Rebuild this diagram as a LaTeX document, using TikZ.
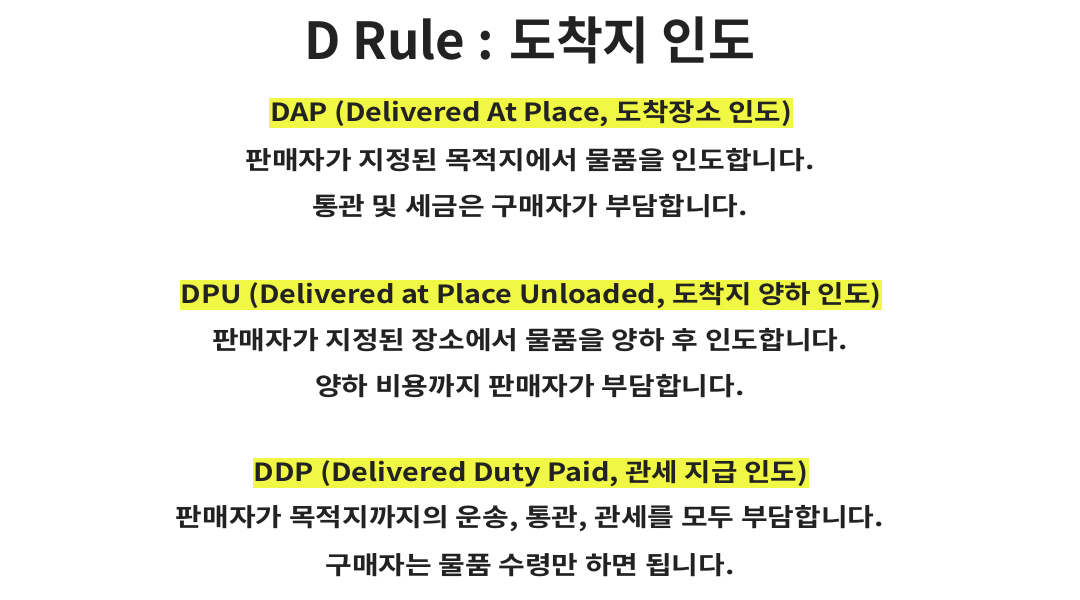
\documentclass[tikz,border=0pt]{standalone}
\usepackage{fontspec}
\setmainfont{Noto Sans CJK KR}[BoldFont={* Bold}]
\newfontfamily\krtitle{Noto Sans CJK KR Bold}[FakeStretch=1.0]
\newfontfamily\krhead{Noto Sans CJK KR Bold}[FakeStretch=1.15]
\newfontfamily\krbody{Noto Sans CJK KR Bold}[FakeStretch=1.16]
\definecolor{ink}{RGB}{34,34,34}
\definecolor{hl}{RGB}{240,247,68}
\begin{document}
\begin{tikzpicture}[x=1pt,y=-1pt,
  titletext/.style={font=\fontsize{51}{56}\selectfont\krtitle, text=ink, inner sep=0pt},
  headtext/.style={font=\fontsize{25}{30}\selectfont\krhead, text=ink, fill=hl, inner xsep=1pt, inner ysep=0pt, text height=23pt, text depth=7pt},
  bodytext/.style={font=\fontsize{25}{30}\selectfont\krbody, text=ink, inner sep=0pt}]
\useasboundingbox[fill=white] (0,0) rectangle (1080,600);
\node[titletext] (title) at (530,40) {D Rule : 도착지 인도};
\node[headtext] (dap) at (531,113) {DAP (Delivered At Place, 도착장소 인도)};
\node[bodytext] (dap1) at (530,160) {판매자가 지정된 목적지에서 물품을 인도합니다.};
\node[bodytext] (dap2) at (530,206) {통관 및 세금은 구매자가 부담합니다.};
\node[headtext] (dpu) at (531,295) {DPU (Delivered at Place Unloaded, 도착지 양하 인도)};
\node[bodytext] (dpu1) at (530,340) {판매자가 지정된 장소에서 물품을 양하 후 인도합니다.};
\node[bodytext] (dpu2) at (530,386) {양하 비용까지 판매자가 부담합니다.};
\node[headtext] (ddp) at (531,473) {DDP (Delivered Duty Paid, 관세 지급 인도)};
\node[bodytext] (ddp1) at (530,519) {판매자가 목적지까지의 운송, 통관, 관세를 모두 부담합니다.};
\node[bodytext] (ddp2) at (530,565) {구매자는 물품 수령만 하면 됩니다.};
\end{tikzpicture}
\end{document}
